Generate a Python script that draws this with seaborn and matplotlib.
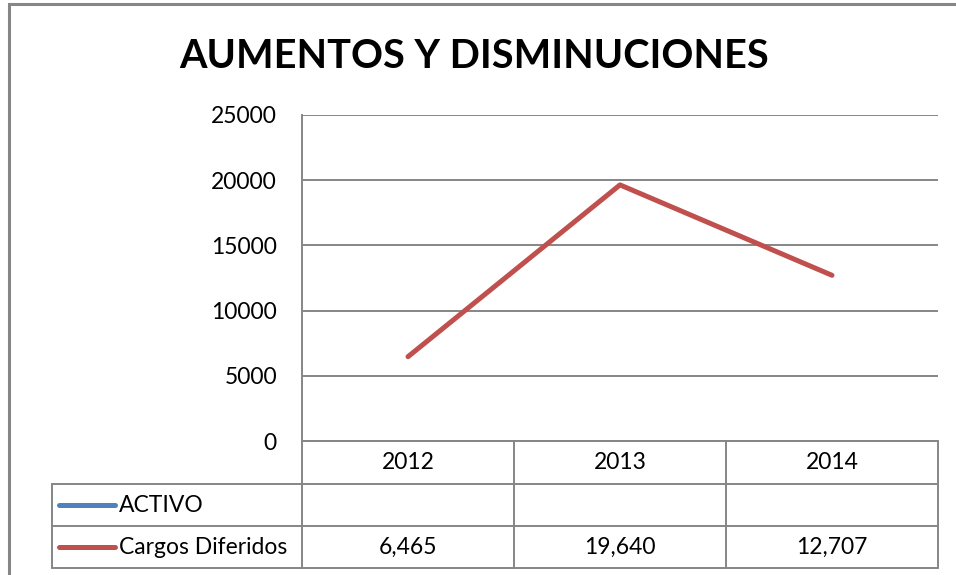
import pandas as pd
import numpy as np
import matplotlib.pyplot as plt
import seaborn as sns
from matplotlib.patches import Rectangle
from matplotlib.lines import Line2D

# Data
years = ['2012', '2013', '2014']
activo = [np.nan, np.nan, np.nan]
cargos = [6465, 19640, 12707]
series_names = ['ACTIVO', 'Cargos Diferidos']
series_colors = ['#4F81BD', '#C0504D']
y_ticks = [0, 5000, 10000, 15000, 20000, 25000]
title = 'AUMENTOS Y DISMINUCIONES'

sns.set_style('white')
plt.rcParams['font.family'] = ['Lato', 'DejaVu Sans']
plt.rcParams['text.color'] = 'black'
plt.rcParams['ytick.color'] = 'black'

W, H = 956, 575
fig = plt.figure(figsize=(W / 100, H / 100), dpi=100)
grid_col = '#868686'
fs = 16.5

def fx(px):
    return px / W

def fy(py):
    return 1 - py / H

# outer chart frame (cropped at right/bottom)
fig.add_artist(Rectangle((fx(9), fy(1000)), 2, fy(4) - fy(1000), transform=fig.transFigure,
                         fill=False, edgecolor=grid_col, linewidth=2.2))

# plot area
left, right, top, bottom = 302, 938, 115, 441
ax = fig.add_axes([fx(left), fy(bottom), fx(right - left), fy(top) - fy(bottom)])

data = pd.DataFrame({'Year': years * 2,
                     'Value': activo + cargos,
                     'Series': [series_names[0]] * 3 + [series_names[1]] * 3})
sns.lineplot(data=data, x='Year', y='Value', hue='Series', palette=series_colors,
             linewidth=3.6, ax=ax, legend=False, sort=False)

ax.set_xlim(-0.5, len(years) - 0.5)
ax.set_ylim(y_ticks[0], y_ticks[-1])
ax.set_yticks(y_ticks)
ax.set_yticklabels([str(t) for t in y_ticks], fontsize=fs)
ax.tick_params(axis='y', length=0, pad=18, colors='black')
ax.set_xticks([])
ax.set_xlabel('')
ax.set_ylabel('')
ax.yaxis.grid(True, color=grid_col, linewidth=1.4)
for s in ['top', 'right', 'bottom']:
    ax.spines[s].set_visible(False)
ax.spines['left'].set_color(grid_col)
ax.spines['left'].set_linewidth(1.4)

fig.text(fx(474), fy(56), title, ha='center', va='center', fontsize=28.5,
         fontweight='bold', color='black')

# data table
row_y = [441, 484, 526, 568]
col_x = [left + (right - left) * i / len(years) for i in range(len(years) + 1)]
leg_left = 52
lw = 1.4
fig.add_artist(Line2D([fx(left), fx(left)], [fy(441), fy(568)], color=grid_col, lw=lw))
for y in row_y[1:]:
    fig.add_artist(Line2D([fx(leg_left), fx(right)], [fy(y), fy(y)], color=grid_col, lw=lw))
fig.add_artist(Line2D([fx(left), fx(right)], [fy(441), fy(441)], color=grid_col, lw=lw))
fig.add_artist(Line2D([fx(leg_left), fx(leg_left)], [fy(484), fy(568)], color=grid_col, lw=lw))
for x in col_x[1:]:
    fig.add_artist(Line2D([fx(x), fx(x)], [fy(441), fy(568)], color=grid_col, lw=lw))

for i, yr in enumerate(years):
    cx = (col_x[i] + col_x[i + 1]) / 2
    fig.text(fx(cx), fy((row_y[0] + row_y[1]) / 2), yr, ha='center', va='center', fontsize=fs)
    fig.text(fx(cx), fy((row_y[2] + row_y[3]) / 2), f'{cargos[i]:,}', ha='center', va='center', fontsize=fs)

for r, (name, col) in enumerate(zip(series_names, series_colors)):
    yc = fy((row_y[r + 1] + row_y[r + 2]) / 2)
    fig.add_artist(Line2D([fx(59), fx(115)], [yc, yc], color=col, lw=3.6, solid_capstyle='round'))
    fig.text(fx(119), yc, name, ha='left', va='center', fontsize=fs)

fig.savefig('out.png', dpi=100)
